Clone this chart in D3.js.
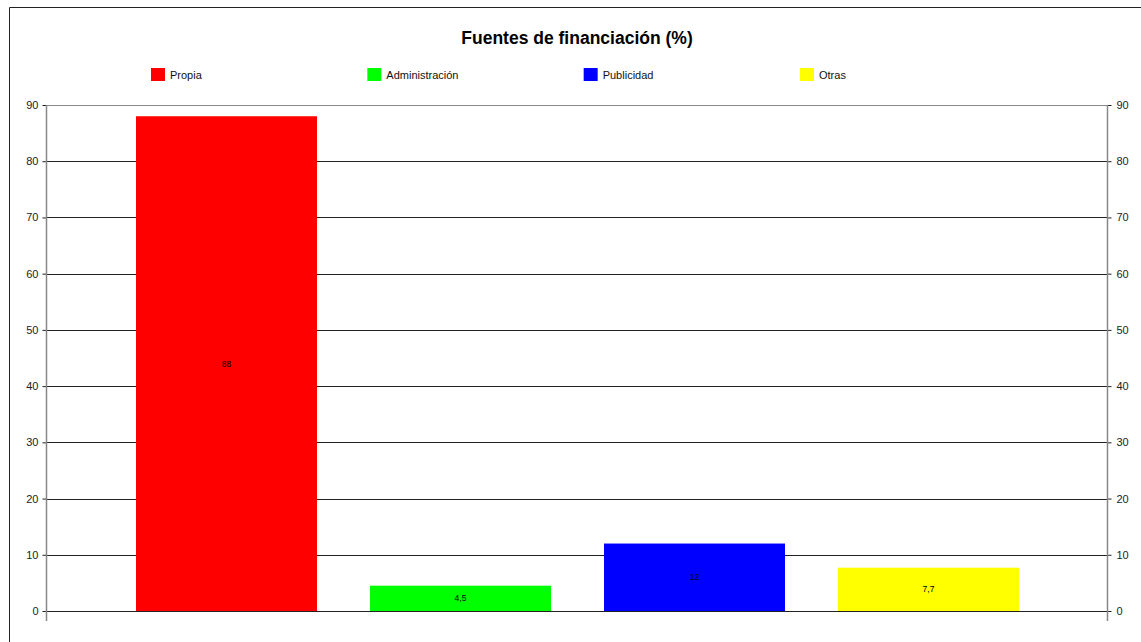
<!DOCTYPE html>
<html>
<head>
<meta charset="utf-8">
<script src="https://cdn.jsdelivr.net/npm/d3@7"></script>
<style>
  body { margin: 0; background: #fff; }
  svg { display: block; font-family: Arial, "Liberation Sans", sans-serif; }
</style>
</head>
<body>
<div id="chart"></div>
<script>
// Chart data
const categories = ["Propia", "Administración", "Publicidad", "Otras"];
const values = [88, 4.5, 12, 7.7];
const valueLabels = ["88", "4,5", "12", "7,7"];
const colors = ["#ff0000", "#00ff00", "#0000ff", "#ffff00"];
const yTicks = [0, 10, 20, 30, 40, 50, 60, 70, 80, 90];

const width = 1141;
const height = 642;
const margin = { top: 105, right: 34, bottom: 31, left: 46 };

const svg = d3.select("#chart")
  .append("svg")
  .attr("width", width)
  .attr("height", height);

// Outer frame (only top/left visible)
svg.append("path")
  .attr("d", `M9.5,${height} V7.5 H${width}`)
  .attr("fill", "none")
  .attr("stroke", "#222")
  .attr("stroke-width", 1);

// Title
svg.append("text")
  .attr("x", 577)
  .attr("y", 44)
  .attr("text-anchor", "middle")
  .attr("font-size", 17.5)
  .attr("font-weight", "bold")
  .attr("fill", "#000")
  .text("Fuentes de financiación (%)");

// Legend
const legendX = d3.scalePoint().domain(categories).range([151, 800]);
const legend = svg.append("g")
  .selectAll("g")
  .data(categories)
  .enter()
  .append("g")
  .attr("transform", d => `translate(${legendX(d)},68)`);

legend.append("rect")
  .attr("width", 14)
  .attr("height", 13)
  .attr("fill", (d, i) => colors[i]);

legend.append("text")
  .attr("x", 19)
  .attr("y", 11)
  .attr("font-size", 11)
  .attr("fill", "#111")
  .text(d => d);

// Scales
const x = d3.scaleBand()
  .domain(categories)
  .range([margin.left + 1, width - margin.right + 1])
  .paddingInner(0.226)
  .paddingOuter(0.38);

const y = d3.scaleLinear()
  .domain([0, 90])
  .range([height - margin.bottom, margin.top]);

// Gridlines
svg.append("g")
  .selectAll("line")
  .data(yTicks.slice(0, -1))
  .enter()
  .append("line")
  .attr("x1", margin.left)
  .attr("x2", width - margin.right)
  .attr("y1", d => Math.round(y(d)) + 0.5)
  .attr("y2", d => Math.round(y(d)) + 0.5)
  .attr("stroke", "#222");

// top border of plot
svg.append("line")
  .attr("x1", margin.left)
  .attr("x2", width - margin.right)
  .attr("y1", Math.round(y(90)) + 0.5)
  .attr("y2", Math.round(y(90)) + 0.5)
  .attr("stroke", "#888");

// Bars
svg.append("g")
  .selectAll("rect")
  .data(values)
  .enter()
  .append("rect")
  .attr("x", (d, i) => Math.round(x(categories[i])))
  .attr("y", d => y(d))
  .attr("width", Math.round(x.bandwidth()))
  .attr("height", d => y(0) - y(d))
  .attr("fill", (d, i) => colors[i]);

// Value labels
svg.append("g")
  .selectAll("text")
  .data(values)
  .enter()
  .append("text")
  .attr("x", (d, i) => x(categories[i]) + x.bandwidth() / 2)
  .attr("y", d => (y(d) + y(0)) / 2 + 3)
  .attr("text-anchor", "middle")
  .attr("font-size", 8.5)
  .attr("fill", "#000")
  .text((d, i) => valueLabels[i]);

// Axes
const leftAxis = svg.append("g")
  .attr("transform", `translate(${margin.left + 0.5},0)`)
  .call(d3.axisLeft(y).tickValues(yTicks).tickSize(4).tickSizeOuter(0));

const rightAxis = svg.append("g")
  .attr("transform", `translate(${width - margin.right + 0.5},0)`)
  .call(d3.axisRight(y).tickValues(yTicks).tickSize(4).tickSizeOuter(0));

[leftAxis, rightAxis].forEach(g => {
  g.select(".domain").remove();
  g.selectAll(".tick line").attr("stroke", "#222");
  g.selectAll(".tick text")
    .attr("font-size", 11)
    .attr("font-family", "Arial, 'Liberation Sans', sans-serif")
    .attr("fill", "#222");
  g.append("line")
    .attr("y1", y(90))
    .attr("y2", y(0) + 10)
    .attr("stroke", "#888")
    .attr("stroke-width", 1.5);
});
leftAxis.selectAll(".tick text").attr("x", -8);
rightAxis.selectAll(".tick text").attr("x", 9);
</script>
</body>
</html>
